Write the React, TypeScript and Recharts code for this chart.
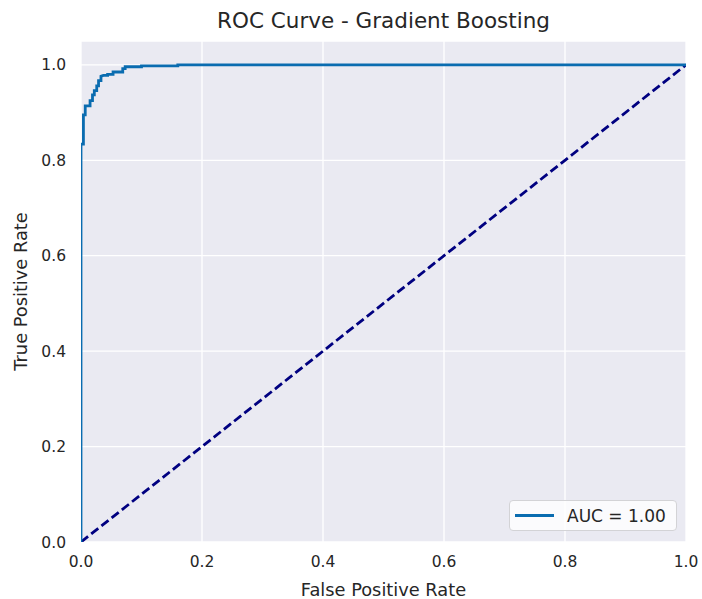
import { CartesianGrid, Legend, Line, LineChart, XAxis, YAxis } from "recharts";

// ROC points (step corners included)
const fpr = [
  0, 0, 0.004, 0.004, 0.007, 0.007, 0.015, 0.015, 0.019, 0.019, 0.022, 0.022, 0.026, 0.026,
  0.029, 0.029, 0.033, 0.033, 0.037, 0.044, 0.044, 0.053, 0.053, 0.069, 0.069, 0.073, 0.073,
  0.1, 0.1, 0.16, 0.16, 1
];
const tpr = [
  0, 0.834, 0.834, 0.895, 0.895, 0.914, 0.914, 0.925, 0.925, 0.937, 0.937, 0.946, 0.946, 0.956,
  0.956, 0.967, 0.967, 0.976, 0.978, 0.978, 0.98, 0.98, 0.985, 0.985, 0.992, 0.992, 0.996,
  0.996, 0.998, 0.998, 1, 1
];
const chanceFpr = [0, 1];
const chanceTpr = [0, 1];
const ticks = [0, 0.2, 0.4, 0.6, 0.8, 1];
const aucLabel = "AUC = 1.00";

const rocData = fpr.map((x, i) => ({ fpr: x, tpr: tpr[i] }));
const chanceData = chanceFpr.map((x, i) => ({ fpr: x, tpr: chanceTpr[i] }));

const FONT = "'DejaVu Sans', sans-serif";
const INK = "#262626";
const ROC_BLUE = "#0a6cb0";

function LegendBox() {
  return (
    <div
      style={{
        width: 168,
        height: 31,
        boxSizing: "border-box",
        border: "1px solid #d3d3d6",
        borderRadius: 4,
        background: "rgba(255,255,255,0.8)",
        display: "flex",
        alignItems: "center",
        fontFamily: FONT,
        fontSize: 17,
        color: INK
      }}
    >
      <div style={{ width: 39, height: 3, background: ROC_BLUE, marginLeft: 5, marginRight: 13 }} />
      <span>{aucLabel}</span>
    </div>
  );
}

export default function App() {
  return (
    <div style={{ position: "absolute", left: 0, top: 0, width: 702, height: 599, background: "#fff", fontFamily: FONT }}>
      <div
        style={{
          position: "absolute",
          left: 0,
          width: 767,
          top: 7,
          textAlign: "center",
          fontSize: 21.5,
          color: INK,
          lineHeight: "28px"
        }}
      >
        ROC Curve - Gradient Boosting
      </div>
      <LineChart width={702} height={599} margin={{ top: 41, right: 16, left: 0, bottom: 0 }}>
        <CartesianGrid fill="#eaeaf2" stroke="#ffffff" strokeWidth={1.3} />
        <XAxis
          type="number"
          dataKey="fpr"
          domain={[0, 1]}
          ticks={ticks}
          allowDataOverflow
          height={57}
          axisLine={false}
          tickLine={false}
          tickSize={0}
          tickMargin={14}
          tickFormatter={(v: number) => v.toFixed(1)}
          tick={{ fill: INK, fontSize: 15.5, fontFamily: FONT }}
          label={{ value: "False Positive Rate", position: "insideBottom", offset: 3, fill: INK, fontSize: 17.8, fontFamily: FONT }}
        />
        <YAxis
          type="number"
          dataKey="tpr"
          domain={[0, 1.05]}
          ticks={ticks}
          allowDataOverflow
          width={81}
          axisLine={false}
          tickLine={false}
          tickSize={0}
          tickMargin={15}
          tickFormatter={(v: number) => v.toFixed(1)}
          tick={{ fill: INK, fontSize: 15.5, fontFamily: FONT }}
          label={{
            value: "True Positive Rate",
            angle: -90,
            position: "insideLeft",
            offset: 21,
            fill: INK,
            fontSize: 17.8,
            fontFamily: FONT,
            style: { textAnchor: "middle" }
          }}
        />
        <Line
          data={chanceData}
          dataKey="tpr"
          type="linear"
          stroke="#000080"
          strokeWidth={2.8}
          strokeDasharray="9 4"
          dot={false}
          activeDot={false}
          isAnimationActive={false}
        />
        <Line
          data={rocData}
          dataKey="tpr"
          type="linear"
          stroke={ROC_BLUE}
          strokeWidth={2.8}
          dot={false}
          activeDot={false}
          isAnimationActive={false}
        />
        <Legend
          layout="horizontal"
          verticalAlign="middle"
          align="center"
          content={() => <LegendBox />}
          wrapperStyle={{ position: "absolute", left: 509, top: 500, width: 168, height: 31 }}
        />
      </LineChart>
    </div>
  );
}
